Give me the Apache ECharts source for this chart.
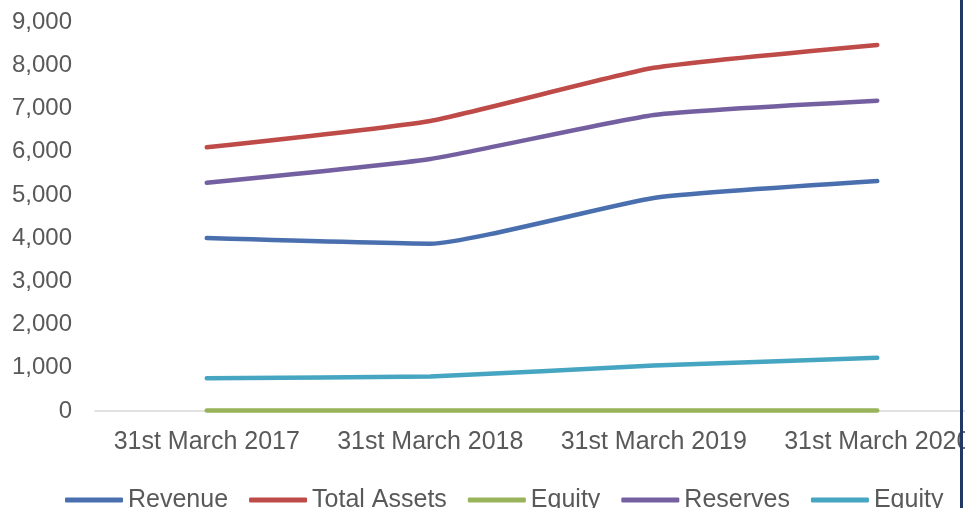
<!DOCTYPE html>
<html>
<head>
<meta charset="utf-8">
<script src="https://cdn.jsdelivr.net/npm/echarts@6/dist/echarts.min.js"></script>
<style>
  html, body { margin: 0; padding: 0; background: #ffffff; }
  #chart { width: 965px; height: 508px; }
</style>
</head>
<body>
<div id="chart"></div>
<script>
// Financial summary by year end
const categories = ['31st March 2017', '31st March 2018', '31st March 2019', '31st March 2020'];
const revenue     = [4000, 3870, 4930, 5320];
const totalAssets = [6100, 6710, 7940, 8470];
const equityA     = [10, 10, 10, 10];
const reserves    = [5280, 5830, 6850, 7180];
const equityB     = [760, 800, 1050, 1230];
const yTicks = { min: 0, max: 9000, interval: 1000 };

// Two series share the label "Equity"; the trailing space keeps legend entries separate.
const seriesDefs = [
  { name: 'Revenue',      data: revenue,     color: '#4a6fae' },
  { name: 'Total Assets', data: totalAssets, color: '#be4b48' },
  { name: 'Equity',       data: equityA,     color: '#98b35a' },
  { name: 'Reserves',     data: reserves,    color: '#7460a0' },
  { name: 'Equity ',      data: equityB,     color: '#46a5c0' }
];

const textColor = '#595959';
const font = 'Liberation Sans, Arial, sans-serif';

const chart = echarts.init(document.getElementById('chart'), null, { renderer: 'canvas' });

chart.setOption({
  animation: false,
  backgroundColor: '#ffffff',
  grid: {
    left: 95, top: 22, width: 894, height: 389,
    containLabel: false,
    outerBoundsMode: 'none'
  },
  xAxis: {
    type: 'category',
    data: categories,
    boundaryGap: true,
    axisLine: { show: true, lineStyle: { color: '#d9d9d9', width: 1.5 } },
    axisTick: { show: false },
    splitLine: { show: false },
    axisLabel: { color: textColor, fontSize: 25, fontFamily: font, margin: 19, interval: 0, hideOverlap: false }
  },
  yAxis: {
    type: 'value',
    min: yTicks.min,
    max: yTicks.max,
    interval: yTicks.interval,
    axisLine: { show: false },
    axisTick: { show: false },
    splitLine: { show: false },
    axisLabel: {
      color: textColor, fontSize: 24, fontFamily: font, margin: 23,
      padding: [4, 0, 0, 0],
      formatter: v => v.toLocaleString('en-US')
    }
  },
  legend: {
    left: 60,
    top: 482,
    itemWidth: 58,
    itemHeight: 5,
    itemGap: 21,
    icon: 'roundRect',
    textStyle: { color: textColor, fontSize: 25, fontFamily: font, lineHeight: 26 },
    formatter: n => n.trim(),
    data: seriesDefs.map(s => s.name)
  },
  series: seriesDefs.map(s => ({
    name: s.name,
    type: 'line',
    data: s.data,
    smooth: 0.15,
    showSymbol: false,
    symbol: 'none',
    color: s.color,
    lineStyle: { color: s.color, width: 4.5, cap: 'round', join: 'round' },
    itemStyle: { color: s.color }
  })),
  graphic: [{
    type: 'rect',
    z: 100,
    shape: { x: 960, y: 0, width: 3, height: 508 },
    style: { fill: '#1f3864' }
  }]
});
</script>
</body>
</html>
